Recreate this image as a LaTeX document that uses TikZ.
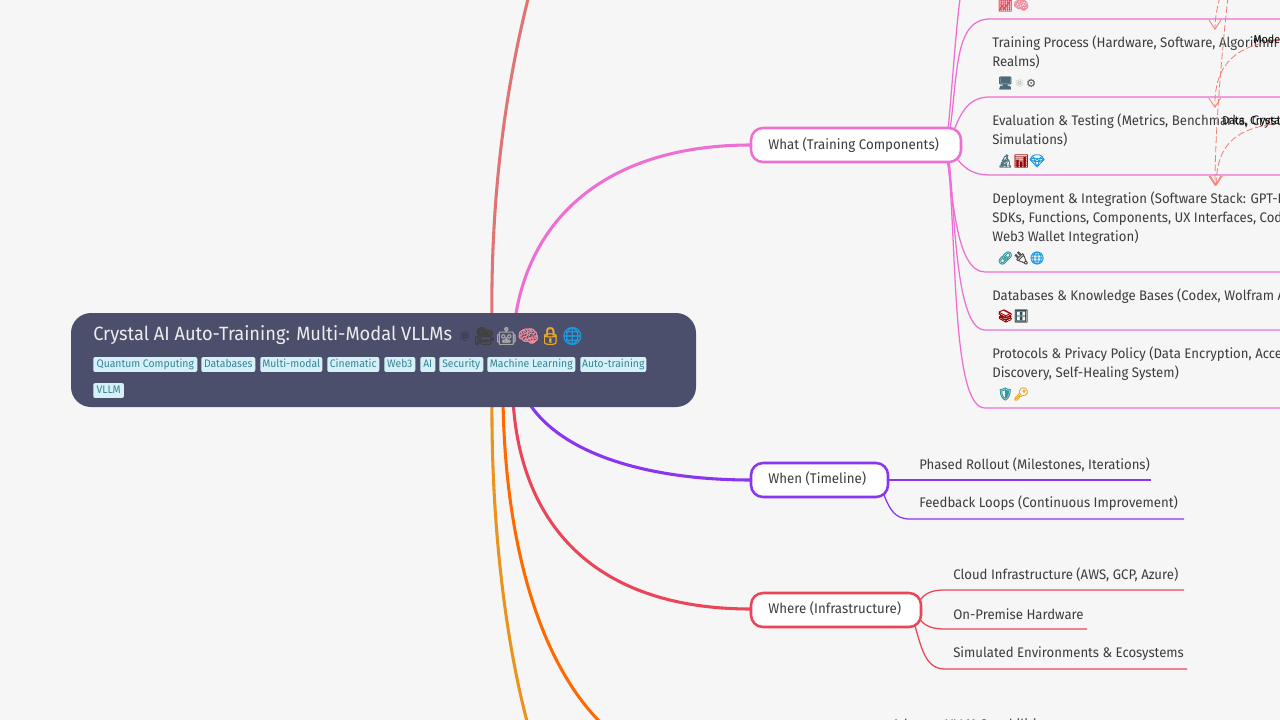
\documentclass[tikz,border=0pt]{standalone}
\usepackage{fontspec}
\setmainfont{Fira Sans}[FakeStretch=0.95]
\newfontfamily\emo{Noto Emoji}[FakeBold=2]
\newfontfamily\symf{DejaVu Sans}
\usetikzlibrary{arrows.meta}
\pgfdeclarelayer{conn}
\pgfsetlayers{conn,main}
\definecolor{bgc}{HTML}{F6F6F6}
\definecolor{rootc}{HTML}{4C4F6B}
\definecolor{tagf}{HTML}{D5F1F8}
\definecolor{tagt}{HTML}{3A8296}
\definecolor{pinkc}{HTML}{EE6FD3}
\definecolor{purpc}{HTML}{8A35EF}
\definecolor{redc}{HTML}{EA4559}
\definecolor{orgc}{HTML}{FF6A00}
\definecolor{ambc}{HTML}{E8941F}
\definecolor{salc}{HTML}{DE7474}
\definecolor{dashc}{HTML}{F27A72}
\definecolor{txtc}{HTML}{3C3C3C}
\definecolor{goldc}{HTML}{E8A92C}
\definecolor{bluec}{HTML}{1E9BE0}
\definecolor{brainc}{HTML}{F08A9A}
\definecolor{slatec}{HTML}{4A6A78}
\tikzset{
 x=0.75pt,y=-0.75pt,
 branch/.style={line width=2.3pt,line cap=round},
 leafline/.style={line width=.95pt},
 mainbox/.style={draw,line width=1.9pt,fill=white,rounded corners=9pt,minimum height=25.5pt,inner sep=0pt,outer sep=0pt,anchor=west},
 bt/.style={anchor=west,inner sep=0pt,text=txtc,font=\fontsize{10.5pt}{13pt}\selectfont},
 leaf/.style={anchor=west,inner sep=0pt,text=txtc,font=\fontsize{10.4pt}{13.9pt}\selectfont,align=left},
 tag/.style={anchor=west,inner sep=0pt,fill=tagf,rounded corners=1.5pt,text=tagt,minimum height=11.2pt,text height=6.2pt,text depth=1.2pt,font=\fontsize{8.2pt}{10pt}\selectfont,align=center},
 rel/.style={dashc,line width=.6pt,dash pattern=on 5pt off 2pt,-{Straight Barb[length=7pt,width=9pt]}},
 rlab/.style={anchor=west,inner sep=0pt,text=black,font=\fontsize{8.5pt}{10pt}\selectfont},
 emoj/.style={anchor=west,inner sep=0pt,font=\emo\fontsize{9.4pt}{12pt}\selectfont},
}
\newcommand{\smallsym}[1]{{\symf\fontsize{8.5pt}{10pt}\selectfont #1}}
\begin{document}
\begin{tikzpicture}
\useasboundingbox (0,0) rectangle (1280,720);
\begin{pgfonlayer}{conn}
\fill[bgc] (0,0) rectangle (1280,720);
\clip (0,0) rectangle (1280,720);
\coordinate (tS) at (492,330);\coordinate (tE) at (529,-5);
\coordinate (wS) at (515,320);
\coordinate (wnS) at (527,400);
\coordinate (whS) at (513,400);
\coordinate (oS) at (503,400);\coordinate (oE) at (601,723);
\coordinate (aS) at (492,400);\coordinate (aE) at (528,725);
\coordinate (l0) at (1290,19);\coordinate (l1) at (1290,97);\coordinate (l2) at (1290,175);
\coordinate (l3) at (1290,272);\coordinate (l4) at (1290,330);\coordinate (l5) at (1290,408);
\coordinate (w1) at (1151,480);\coordinate (w2) at (1184,519);
\coordinate (c1) at (1184,590);\coordinate (c2) at (1087,629);\coordinate (c3) at (1187,669);
\coordinate (r1s) at (1220,-3);\coordinate (r1e) at (1215,30);
\coordinate (r2s) at (1228,-3);\coordinate (r2e) at (1215,186);
\coordinate (r3s) at (1280,40);\coordinate (r3e) at (1215,108);
\coordinate (r4s) at (1280,123);\coordinate (r4e) at (1216,186);
\draw[branch,salc] (tS) .. controls (490,200) and (505,90) .. (tE);
\draw[branch,ambc] (aS) .. controls (491,520) and (505,640) .. (aE);
\draw[branch,orgc] (oS) .. controls (505,540) and (538,660) .. (oE);
\draw[branch,pinkc] (wS) .. controls (530,215) and (610,145) .. (751,145);
\draw[branch,purpc] (wnS) .. controls (560,455) and (650,480) .. (751,480);
\draw[branch,redc] (whS) .. controls (520,520) and (590,609) .. (751,609);
\draw[pinkc,leafline] (948,130) .. controls (952,90) and (958,-2) .. (962,-10);
\draw[pinkc,leafline] (950,130) .. controls (958,70) and (955,19) .. (990,19) -- (l0);
\draw[pinkc,leafline] (954,130) .. controls (962,110) and (970,97) .. (990,97) -- (l1);
\draw[pinkc,leafline] (958,160) .. controls (966,170) and (975,175) .. (990,175) -- (l2);
\draw[pinkc,leafline] (947,160) .. controls (953,190) and (955,272) .. (985,272) -- (l3);
\draw[pinkc,leafline] (949,160) .. controls (955,210) and (955,330) .. (985,330) -- (l4);
\draw[pinkc,leafline] (948,160) .. controls (957,250) and (952,408) .. (985,408) -- (l5);
\draw[purpc,leafline] (889,480) -- (w1);
\draw[purpc,leafline] (884,495) .. controls (890,510) and (895,519) .. (910,519) -- (w2);
\draw[redc,leafline] (920,600) .. controls (925,594) and (930,590) .. (945,590) -- (c1);
\draw[redc,leafline] (920,620) .. controls (925,625) and (930,629) .. (945,629) -- (c2);
\draw[redc,leafline] (915,626) .. controls (922,650) and (926,669) .. (945,669) -- (c3);
\end{pgfonlayer}
\node[mainbox,draw=pinkc,minimum width=157.5pt] (what) at (751,145) {};
\node[bt] (whatT) at (768,145) {What (Training Components)};
\node[mainbox,draw=purpc,minimum width=102.75pt] (when) at (751,480) {};
\node[bt] (whenT) at (768,479) {When (Timeline)};
\node[mainbox,draw=redc,minimum width=127.5pt] (where) at (751,610) {};
\node[bt] (whereT) at (768,609) {Where (Infrastructure)};
\node[emoj,text=redc] (e0) at (997,5) {📈\textcolor{brainc}{🧠}};
\node[leaf,anchor=north west] (tr) at (992,36) {Training Process (Hardware, Software, Algorithm\\Realms)};
\node[emoj,text=slatec] (e1) at (997,83) {🖥\hspace{1pt}\textcolor{black!35}{\smallsym{⚛}}\hspace{1pt}\textcolor{black!70}{\smallsym{⚙}}};
\node[leaf,anchor=north west] (ev) at (992,114) {Evaluation \& Testing (Metrics, Benchmarks, Crystal\\Simulations)};
\node[emoj,text=slatec] (e2) at (997,161) {🔬\textcolor{red!60!black}{📊}\textcolor{bluec}{💎}};
\node[leaf,anchor=north west] (de) at (992,192) {Deployment \& Integration (Software Stack: GPT-Engineer,\\SDKs, Functions, Components, UX Interfaces, Code,\\Web3 Wallet Integration)};
\node[emoj,text=slatec!70!cyan] (e3) at (997,258) {🔗\textcolor{black!70}{🔌}\textcolor{bluec}{🌐}};
\node[leaf,anchor=north west] (db) at (992,289) {Databases \& Knowledge Bases (Codex, Wolfram Alpha)};
\node[emoj,text=red!60!black] (e4) at (997,316) {📚\textcolor{slatec!70!black}{🗄}};
\node[leaf,anchor=north west] (pr) at (992,347) {Protocols \& Privacy Policy (Data Encryption, Access,\\Discovery, Self-Healing System)};
\node[emoj,text=slatec!70!cyan] (e5) at (997,394) {🛡\textcolor{goldc}{🔑}};
\draw[rel] (r1s) .. controls (1217,8) and (1215,18) .. (r1e);
\draw[rel] (r2s) .. controls (1222,50) and (1215,130) .. (r2e);
\draw[rel] (r3s) .. controls (1235,45) and (1214,65) .. (r3e);
\draw[rel] (r4s) .. controls (1240,128) and (1217,140) .. (r4e);
\node[rlab] (m1) at (1253,39) {Model};
\node[rlab] (m2) at (1222,121) {Data, Crystal};
\node[leaf] (pr1) at (919,464.5) {Phased Rollout (Milestones, Iterations)};
\node[leaf] (pr2) at (919,503.5) {Feedback Loops (Continuous Improvement)};
\node[leaf] (cl) at (953,575) {Cloud Infrastructure (AWS, GCP, Azure)};
\node[leaf] (on) at (953,614) {On-Premise Hardware};
\node[leaf] (si) at (953,654) {Simulated Environments \& Ecosystems};
\node[leaf] (ad) at (892,726) {Advance VLLM Capabilities};
\draw[fill=rootc,draw=none,rounded corners=15pt] (71,313) rectangle (696,407);
\node[anchor=west,inner sep=0pt,text=white!93!black,font=\fontsize{14.4pt}{16pt}\selectfont] (root) at (93,335) {Crystal AI Auto-Training: Multi-Modal VLLMs};
\node[anchor=center,inner sep=0pt,font=\symf\fontsize{11pt}{12pt}\selectfont,text=black!40!rootc] (ra) at (465,336) {⚛};
\node[emoj,font=\emo\fontsize{13pt}{16pt}\selectfont,text=black!75] (re) at (473,336) {🎥\textcolor{black!35}{🤖}\textcolor{brainc}{🧠}\textcolor{goldc}{🔒}\textcolor{bluec}{🌐}};
\foreach \n/\a/\b/\t in {t1/93/197/Quantum Computing,t2/201/255/Databases,t3/260/322/Multi-modal,t4/327/379/Cinematic,t5/384/415/Web3,t6/420/435/AI,t7/439/483/Security,t8/487/575/Machine Learning,t9/580/646/Auto-training}{
 \pgfmathsetmacro\tagw{(\b-\a)*0.75}
 \node[tag,minimum width=\tagw pt] (\n) at (\a,364.5) {\t};
}
\node[tag,minimum width=23pt] (t10) at (93,390.5) {VLLM};
\end{tikzpicture}
\end{document}
